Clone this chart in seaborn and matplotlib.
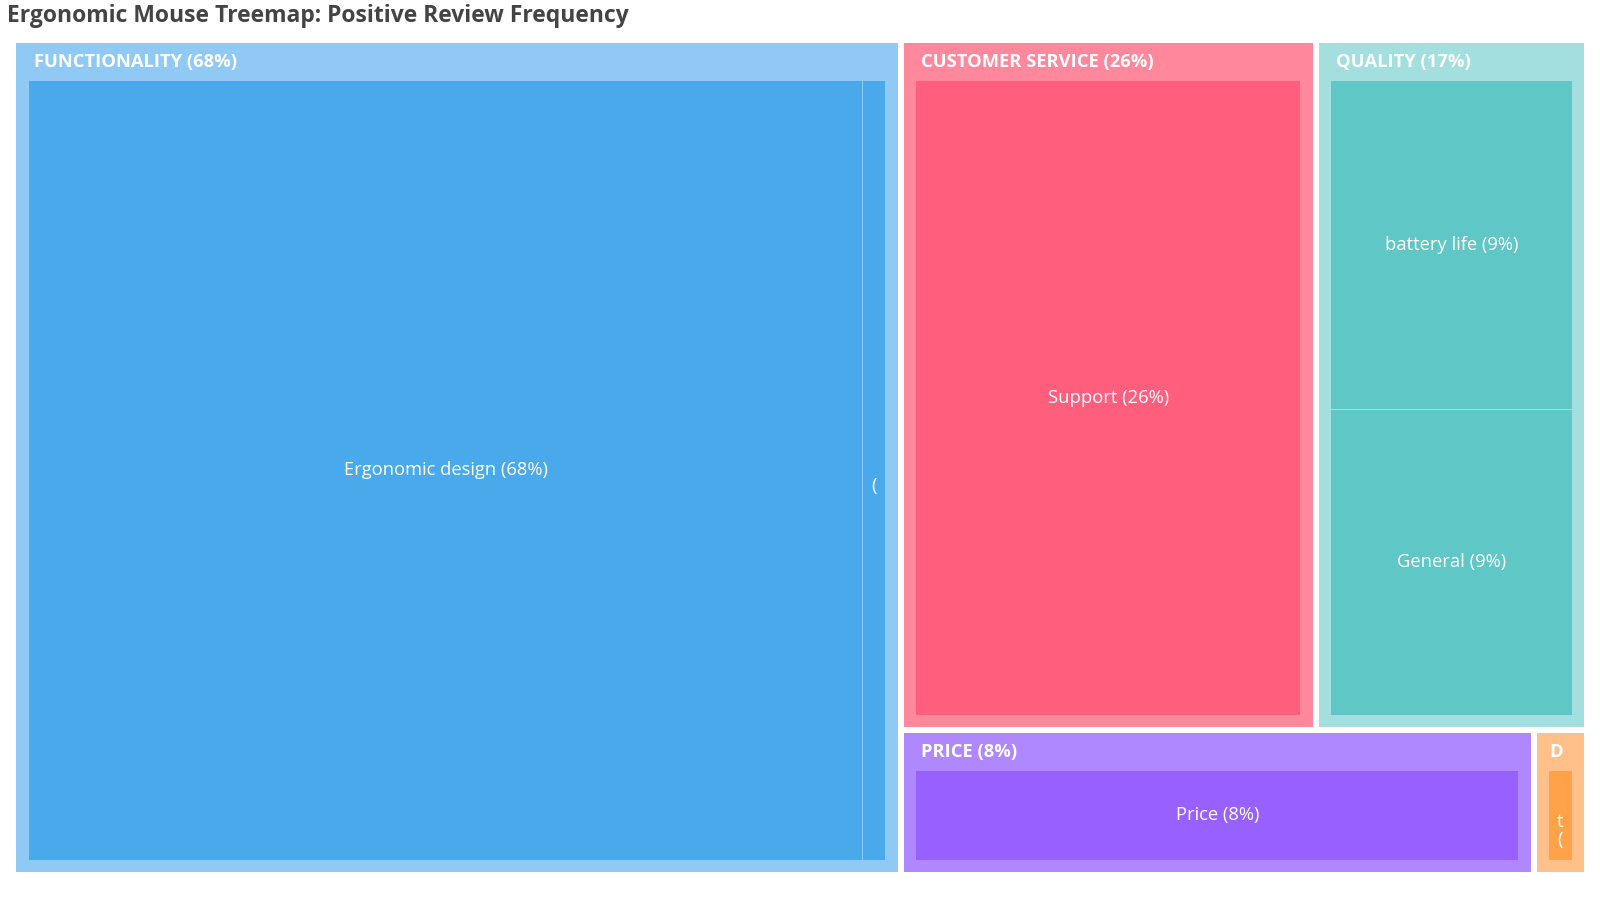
import matplotlib
matplotlib.use("Agg")
import matplotlib.pyplot as plt
from matplotlib.patches import Rectangle
import seaborn as sns

# data
groups = ["FUNCTIONALITY", "CUSTOMER SERVICE", "QUALITY", "PRICE", "DURABILITY"]
group_pct = [68, 26, 17, 8, 1]
group_header = ["FUNCTIONALITY (68%)", "CUSTOMER SERVICE (26%)", "QUALITY (17%)", "PRICE (8%)", "D"]

child_group = [0, 0, 1, 2, 2, 3, 4]
child_names = ["Ergonomic design", "Comfort", "Support", "battery life", "General", "Price", "Durability"]
child_values = [65.5, 1.8, 26, 8.8, 8.2, 8.3, 0.7]
child_pct = [68, 2, 26, 9, 9, 8, 1]
# labels that get cut off in the narrow boxes
child_clipped = {1: "(", 6: "t\n("}

outer_colors = ["#90CAF4", "#FF889C", "#A3DFDF", "#AF87FF", "#FFC08A"]
inner_colors = ["#49A9EB", "#FF5E7D", "#5FC7C5", "#9760FF", "#FFA24A"]

sns.set_style("white")
plt.rcParams["font.family"] = ["Open Sans", "DejaVu Sans"]

RATIO = 0.5 * (1 + 5 ** 0.5)


def worst(areas, fixed):
    s = sum(areas)
    f = fixed * fixed * RATIO
    return max(f * max(areas) / (s * s), (s * s) / (f * min(areas)))


def place(row, areas, fixed, rect, half_gap, flush, out):
    horizontal = fixed == rect[2]
    other = sum(areas[j] for j in row) / fixed
    side = rect[3] if horizontal else rect[2]
    if flush or other > side:
        other = side
    last = rect[0] if horizontal else rect[1]
    end = last + (rect[2] if horizontal else rect[3])
    for k, j in enumerate(row):
        step = areas[j] / other
        remain = end - last
        mod = remain if (k == len(row) - 1 or remain < step) else step
        thick = max(other - 2 * half_gap, 0)
        length = max(mod - 2 * half_gap, 0)
        if horizontal:
            out[j] = (last + min(half_gap, length / 2), rect[1] + min(half_gap, thick / 2), length, thick)
        else:
            out[j] = (rect[0] + min(half_gap, thick / 2), last + min(half_gap, length / 2), thick, length)
        last += mod
    if horizontal:
        rect[1] += other
        rect[3] -= other
    else:
        rect[0] += other
        rect[2] -= other


def squarify(values, x, y, w, h, half_gap):
    total = sum(values)
    areas = [v * w * h / total for v in values]
    rect = [x, y, w, h]
    out = {}
    row, best, fixed = [], float("inf"), min(w, h)
    i = 0
    while i < len(values):
        row.append(i)
        score = worst([areas[j] for j in row], fixed)
        if score <= best:
            i += 1
            best = score
        else:
            row.pop()
            place(row, areas, fixed, rect, half_gap, False, out)
            fixed = min(rect[2], rect[3])
            row, best = [], float("inf")
    if row:
        place(row, areas, fixed, rect, half_gap, True, out)
    return [out[k] for k in range(len(values))]


group_values = [sum(v for v, g in zip(child_values, child_group) if g == gi) for gi in range(len(groups))]
group_rects = squarify(group_values, 13, 40, 1574, 835, 3)

fig = plt.figure(figsize=(16, 9), dpi=100)
ax = fig.add_axes([0, 0, 1, 1])
ax.set_xlim(0, 1600)
ax.set_ylim(900, 0)
ax.axis("off")

pad, upper = 12, 37.5
for gi, (gx, gy, gw, gh) in enumerate(group_rects):
    ax.add_patch(Rectangle((gx, gy), gw, gh, facecolor=outer_colors[gi], edgecolor="none"))
    hx = gx + (17.5 if group_header[gi].startswith(groups[gi]) else 13)
    ax.text(hx, gy + 19, group_header[gi], color="white", fontsize=13.25,
            fontweight="bold", ha="left", va="center")
    idx = [k for k, g in enumerate(child_group) if g == gi]
    rects = squarify([child_values[k] for k in idx], gx + pad, gy + upper,
                     gw - 2 * pad, gh - upper - pad, 0.5)
    for k, (cx, cy, cw, ch) in zip(idx, rects):
        ax.add_patch(Rectangle((cx, cy), cw, ch, facecolor=inner_colors[gi], edgecolor="none"))
        if k in child_clipped:
            ax.text(cx + cw / 2, cy + ch / 2 + 16, child_clipped[k], color="white",
                    fontsize=13.2, ha="center", va="center", linespacing=1.0)
        else:
            ax.text(cx + cw / 2, cy + ch / 2, f"{child_names[k]} ({child_pct[k]}%)",
                    color="white", fontsize=13.2, ha="center", va="center")

ax.text(7, 15.5, "Ergonomic Mouse Treemap: Positive Review Frequency", fontsize=16.45,
        fontweight="bold", color="#444444", ha="left", va="center")

fig.savefig("out.png", dpi=100)
